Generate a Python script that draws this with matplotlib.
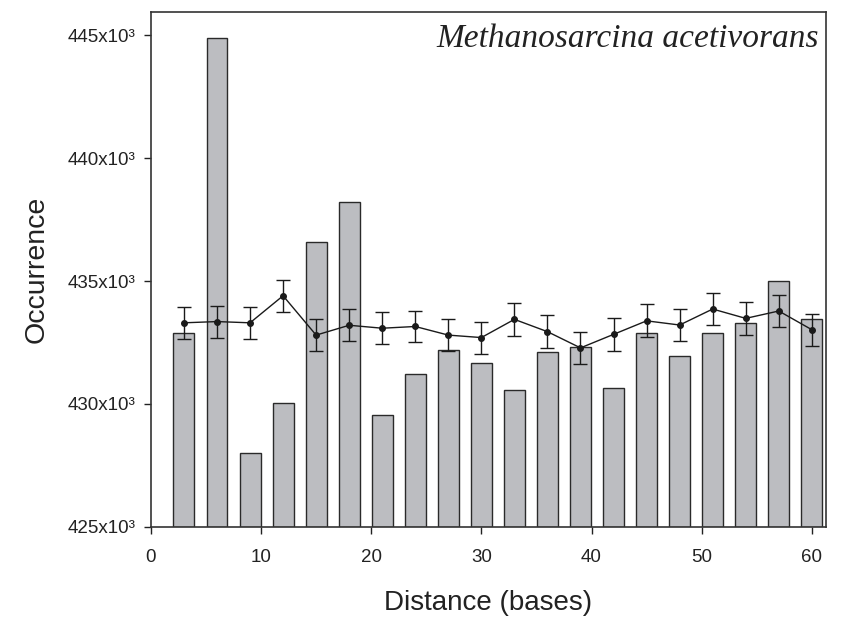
import matplotlib
matplotlib.use("Agg")
import matplotlib.pyplot as plt
from matplotlib.ticker import FixedLocator

distance = [3, 6, 9, 12, 15, 18, 21, 24, 27, 30, 33, 36, 39, 42, 45, 48, 51, 54, 57, 60]
bar_values = [432900, 444900, 428000, 430050, 436600, 438200, 429550, 431200, 432200, 431650,
              430550, 432100, 432300, 430650, 432900, 431950, 432900, 433300, 435000, 433450]
mean_values = [433300, 433350, 433300, 434400, 432800, 433200, 433080, 433150, 432800, 432700,
               433440, 432940, 432280, 432830, 433380, 433210, 433860, 433480, 433780, 433020]
err_values = [650, 650, 650, 650, 650, 650, 650, 650, 650, 650,
              680, 660, 660, 660, 670, 650, 650, 660, 660, 650]
ytick_vals = [425000, 430000, 435000, 440000, 445000]
ytick_labels = ["425x10³", "430x10³", "435x10³", "440x10³", "445x10³"]
xtick_vals = [0, 10, 20, 30, 40, 50, 60]

plt.rcParams['font.family'] = ['Liberation Sans', 'DejaVu Sans']

fig = plt.figure(figsize=(8.43, 6.17), dpi=100)
ax = fig.add_axes([0.179, 0.146, 0.801, 0.835])

ax.bar(distance, [v - 425000 for v in bar_values], bottom=425000, width=1.9,
       color='#bcbdc1', edgecolor='#2a2a2a', linewidth=1.0, zorder=2)
ax.errorbar(distance, mean_values, yerr=err_values, color='#1a1a1a', marker='o',
            markersize=4, linewidth=1.0, elinewidth=1.0, capsize=5, capthick=1.0, zorder=3)

ax.set_xlim(0, 61.3)
ax.set_ylim(425000, 445950)
ax.yaxis.set_major_locator(FixedLocator(ytick_vals))
ax.set_yticklabels(ytick_labels, fontsize=13.5, color='#222222')
ax.xaxis.set_major_locator(FixedLocator(xtick_vals))
ax.set_xticklabels([str(v) for v in xtick_vals], fontsize=13.5, color='#222222')
ax.tick_params(direction='out', length=5, width=1, colors='#222222')
ax.tick_params(axis='x', pad=11)
ax.tick_params(axis='y', pad=6)
for s in ax.spines.values():
    s.set_linewidth(1.2)
    s.set_color('#333333')

ax.set_xlabel("Distance (bases)", fontsize=20, labelpad=17, color='#222222')
ax.set_ylabel("Occurrence", fontsize=20.5, labelpad=13, color='#222222')

ax.text(0.99, 0.978, "Methanosarcina acetivorans", transform=ax.transAxes,
        ha='right', va='top', fontsize=24, style='italic',
        family=['Liberation Serif', 'DejaVu Serif'], color='#222222')

fig.savefig("out.png", dpi=100)
